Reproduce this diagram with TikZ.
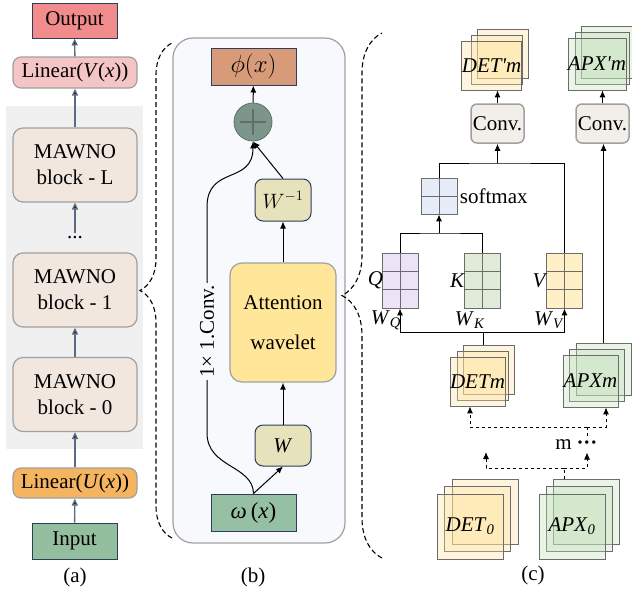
\documentclass[tikz,border=0pt]{standalone}
\usepackage{fontspec}
\setmainfont{Liberation Serif}
\usepackage{amsmath}
\usetikzlibrary{arrows.meta,positioning,calc,decorations.pathreplacing}

\definecolor{outred}{HTML}{F28B8B}
\definecolor{linpink}{HTML}{F5C5C5}
\definecolor{mawno}{HTML}{F2E7DF}
\definecolor{bggray}{HTML}{F0F0F0}
\definecolor{linorange}{HTML}{F5B45F}
\definecolor{ingreen}{HTML}{93BF9F}
\definecolor{navy}{HTML}{2E3D5C}
\definecolor{slate}{HTML}{5B6B82}
\definecolor{boxgray}{HTML}{A0A0A0}
\definecolor{panelb}{HTML}{F7F9FC}
\definecolor{phicol}{HTML}{D89B79}
\definecolor{pluscol}{HTML}{7C968B}
\definecolor{plusline}{HTML}{5E7068}
\definecolor{wcol}{HTML}{E6E2BB}
\definecolor{attcol}{HTML}{FFE699}
\definecolor{omcol}{HTML}{95C0A4}
\definecolor{convcol}{HTML}{F2EEEA}
\definecolor{sheetY}{HTML}{FFE3A0}
\definecolor{sheetG}{HTML}{C2DFB9}
\definecolor{smaxcol}{HTML}{E6EDF8}
\definecolor{qcol}{HTML}{ECE3F6}
\definecolor{kcol}{HTML}{E0ECD8}
\definecolor{vcol}{HTML}{FFF0C8}

\tikzset{
	sqbox/.style={shape=rectangle,draw=navy,line width=1pt,inner sep=0pt},
	rbox/.style={shape=rectangle,rounded corners=8pt,draw=boxgray,line width=1.2pt,inner sep=0pt,align=center},
	sheet/.style={shape=rectangle,draw=gray!85!black,line width=0.8pt,fill opacity=0.35,text opacity=1,inner sep=0pt},
	mat/.style={shape=rectangle,draw=gray!85!black,line width=0.9pt,minimum width=36,inner sep=0pt},
	matline/.style={draw=gray!85!black,line width=0.9pt},
	arrA/.style={draw=slate,line width=1.4pt,-{Triangle[length=7pt,width=6pt]}},
	arrB/.style={line width=1pt,->},
	dashline/.style={dashed,line width=0.9pt},
	bracedash/.style={dash pattern=on 5pt off 3pt,line width=1.1pt,decorate}
}

\begin{document}
\begin{tikzpicture}[x=1pt,y=-1pt,font=\fontsize{21}{26}\selectfont,>={Latex[length=7pt,width=6pt]}]
	\useasboundingbox (0,0) rectangle (632,595);

	\node[fill=bggray,minimum width=137,minimum height=343,inner sep=0pt] (blocks) at (74.5,277.5) {};
	\node[sqbox,fill=outred,minimum width=85,minimum height=35] (output) at (74.5,20.5) {Output};
	\node[rbox,fill=linpink,minimum width=124,minimum height=31] (linV) at (75,72.5) {Linear(\textit{V}(\textit{x}))};
	\node[rbox,rounded corners=10pt,fill=mawno,minimum width=124,minimum height=74] (blkL) at (75,165) {MAWNO\\block - L};
	\node (dots) at (75,238) {...};
	\node[rbox,rounded corners=10pt,fill=mawno,minimum width=124,minimum height=74] (blk1) at (75,290) {MAWNO\\block - 1};
	\node[rbox,rounded corners=10pt,fill=mawno,minimum width=124,minimum height=74] (blk0) at (75,394.5) {MAWNO\\block - 0};
	\node[rbox,fill=linorange,minimum width=124,minimum height=30] (linU) at (75,483) {Linear(\textit{U}(\textit{x}))};
	\node[sqbox,fill=ingreen,minimum width=85,minimum height=36] (input) at (74.5,541) {Input};
	\node (capA) at (75,577) {(a)};

	\path[arrA] (linV) edge (output);
	\path[arrA] (blkL) edge (linV);
	\path[arrA] (dots) edge (blkL);
	\path[arrA] (blk0) edge (blk1);
	\path[arrA] (linU) edge (blk0);
	\path[arrA] (input) edge (linU);

	\coordinate (braceAbot) at (172,538);
	\coordinate (braceAtop) at (172,43);
	\draw[bracedash,decoration={brace,amplitude=32pt}] (braceAbot) -- (braceAtop);

	\node[shape=rectangle,rounded corners=20pt,draw=boxgray,line width=1.2pt,fill=panelb,minimum width=172,minimum height=505] (panelB) at (259,290.5) {};
	\node[sqbox,fill=phicol,minimum width=85,minimum height=37,font=\fontsize{23}{26}\selectfont] (phi) at (253.5,66.5) {$\phi(x)$};
	\node[circle,draw=plusline,line width=0.8pt,fill=pluscol,minimum size=38,inner sep=0pt] (plus) at (253,122) {};
	\draw[plusline,line width=1.2pt] ([xshift=-13pt]plus.center) -- ([xshift=13pt]plus.center) ([yshift=13pt]plus.center) -- ([yshift=-13pt]plus.center);
	\node[rbox,draw=navy,line width=1pt,fill=wcol,minimum width=56,minimum height=42] (winv) at (283,200) {$W^{-1}$};
	\node[rbox,rounded corners=12pt,fill=attcol,minimum width=106,minimum height=119] (att) at (283,322.5) {Attention\\[14pt]wavelet};
	\node[rbox,draw=navy,line width=1pt,fill=wcol,minimum width=56,minimum height=41] (wmat) at (283,445.5) {\textit{W}};
	\node[sqbox,fill=omcol,minimum width=85,minimum height=37,font=\fontsize{23}{26}\selectfont] (omega) at (253.5,512.5) {\textit{ω}\,(\textit{x})};
	\node (capB) at (253,577) {(b)};

	\path[arrB] (plus) edge (phi);
	\path[arrB] (winv.north) edge (plus.south);
	\path[arrB] (att) edge (winv);
	\path[arrB] (wmat) edge (att);
	\path[arrB] (omega.north) edge (wmat.south);
	\draw[arrB] (omega.north) .. controls (253,465) and (207,468) .. (207,433) -- node[pos=0.45,rotate=90,fill=panelb,inner sep=2pt] (conv11) {1× 1.Conv.} (207,207) .. controls (207,165) and (253,185) .. (plus.south);

	\coordinate (braceBbot) at (382,558);
	\coordinate (braceBtop) at (382,33);
	\draw[bracedash,decoration={brace,amplitude=40pt}] (braceBbot) -- (braceBtop);

	\foreach \i in {2,1}
		\node[sheet,fill=sheetY,minimum width=51,minimum height=49] (detp\i) at (491.5+5.5*\i,65.5-6*\i) {};
	\node[sheet,fill=sheetY,minimum width=51,minimum height=49] (detp) at (491.5,65.5) {\textit{DET\textquotesingle m}};
	\foreach \i in {2,1}
		\node[sheet,fill=sheetG,minimum width=54,minimum height=52] (apxp\i) at (597+5.5*\i,64-6*\i) {};
	\node[sheet,fill=sheetG,minimum width=54,minimum height=52] (apxp) at (597,64) {\textit{APX\textquotesingle m}};

	\node[rbox,rounded corners=6pt,fill=convcol,line width=1.5pt,minimum width=53,minimum height=39] (conv1) at (497.5,123.5) {Conv.};
	\node[rbox,rounded corners=6pt,fill=convcol,line width=1.5pt,minimum width=53,minimum height=39] (conv2) at (602.5,123.5) {Conv.};

	\node[mat,fill=smaxcol,minimum height=36] (smax) at (439,196) {};
	\node[right=-1pt of smax] (smaxlbl) {softmax};
	\draw[matline] (smax.north) -- (smax.south) (smax.west) -- (smax.east);

	\node[mat,fill=qcol,minimum height=55] (q) at (400,280.5) {};
	\node[mat,fill=kcol,minimum height=55] (k) at (482,280.5) {};
	\node[mat,fill=vcol,minimum height=55] (v) at (564.5,280.5) {};
	\foreach \m in {q,k,v}
		\draw[matline] (\m.north) -- (\m.south) ($(\m.north west)!1/3!(\m.south west)$) -- ($(\m.north east)!1/3!(\m.south east)$) ($(\m.north west)!2/3!(\m.south west)$) -- ($(\m.north east)!2/3!(\m.south east)$);
	\node[left=-5pt of q] (qlbl) {\textit{Q}};
	\node[left=-5pt of k] (klbl) {\textit{K}};
	\node[left=-5pt of v] (vlbl) {\textit{V}};
	\node (wq) at (386,320) {\textit{W}\textsubscript{\textit{Q}}};
	\node (wk) at (470,320) {\textit{W}\textsubscript{\textit{K}}};
	\node (wv) at (549,320) {\textit{W}\textsubscript{\textit{V}}};

	\foreach \i in {2,1}
		\node[sheet,fill=sheetY,minimum width=51,minimum height=49] (detm\i) at (477.5+5.5*\i,381.5-6*\i) {};
	\node[sheet,fill=sheetY,minimum width=51,minimum height=49] (detm) at (477.5,381.5) {\textit{DETm}};
	\foreach \i in {2,1}
		\node[sheet,fill=sheetG,minimum width=55,minimum height=52] (apxm\i) at (590.5+6.5*\i,381-6*\i) {};
	\node[sheet,fill=sheetG,minimum width=55,minimum height=52] (apxm) at (590.5,381) {\textit{APXm}};

	\node[inner sep=3pt] (mdots) at (587,445) {\textbf{···}};
	\node[left=-2pt of mdots] (mlbl) {m};

	\foreach \i in {2,1}
		\node[sheet,fill=sheetY,minimum width=66,minimum height=65] (detz\i) at (470+7.5*\i,526.5-7.5*\i) {};
	\node[sheet,fill=sheetY,minimum width=66,minimum height=65] (detz) at (470,526.5) {\textit{DET}\textsubscript{\textit{0}}};
	\foreach \i in {2,1}
		\node[sheet,fill=sheetG,minimum width=66,minimum height=65] (apxz\i) at (572+7*\i,526.5-7.5*\i) {};
	\node[sheet,fill=sheetG,minimum width=66,minimum height=65] (apxz) at (572,526.5) {\textit{APX}\textsubscript{\textit{0}}};
	\node (capC) at (533,575) {(c)};

	\coordinate (sv) at (497.5,163);
	\coordinate (qk) at (439,233);
	\coordinate (wqv) at (483,332);
	\coordinate (upj) at (587,427);
	\coordinate (lowj) at (564,468);
	\coordinate (detnext) at (486,452);

	\draw[arrB] (conv1.north) -- (conv1.north |- detp.south);
	\draw[arrB] (conv2.north) -- (conv2.north |- apxp.south);
	\draw[line width=1pt] (smax.north) |- (sv) -| (v.north);
	\draw[arrB] (sv) -- (conv1.south);
	\draw[line width=1pt] (q.north) |- (qk) -| (k.north);
	\draw[arrB] (qk) -- (smax.south);
	\draw[line width=1pt] (wqv |- detm2.north) -- (wqv);
	\draw[arrB] (wqv) -| (q.south);
	\draw[arrB] (wqv) -| (v.south);
	\draw[arrB] (apxm2.north) -- (apxm2.north |- conv2.south);

	\draw[dashline] (upj) -- (upj |- mdots.north);
	\draw[dashline,->] (upj) -| ([xshift=-7.5pt]detm.south);
	\draw[dashline,->] (upj) -| ([xshift=15.5pt]apxm.south);
	\draw[dashline] (lowj |- apxz2.north) -- (lowj);
	\draw[dashline,->] (lowj) -| (detnext);
	\draw[dashline,->] (lowj) -| (upj |- mdots.south);
\end{tikzpicture}
\end{document}
